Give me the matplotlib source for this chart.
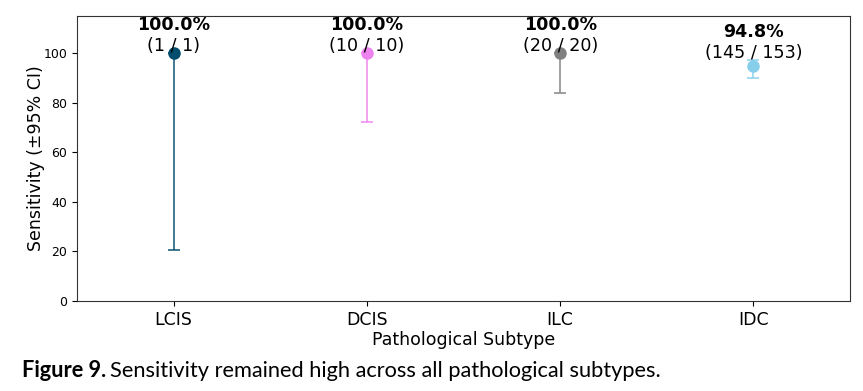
import matplotlib
matplotlib.use("Agg")
import matplotlib.pyplot as plt
import numpy as np

plt.rcParams["font.family"] = ["DejaVu Sans"]

subtypes = ["LCIS", "DCIS", "ILC", "IDC"]
detected = [1, 10, 20, 145]
totals = [1, 10, 20, 153]
sensitivity = [100.0, 100.0, 100.0, 94.8]
ci_lower = [20.7, 72.2, 83.9, 90.0]
ci_upper = [100.0, 100.0, 100.0, 97.3]
colors = ["#004c6d", "#ee82ee", "#808080", "#87ceeb"]

fig = plt.figure(figsize=(8.63, 3.91), dpi=100)
ax = fig.add_axes([0.0892, 0.2302, 0.8958, 0.7288])

xs = np.arange(len(subtypes))
for x, s, lo, hi, c in zip(xs, sensitivity, ci_lower, ci_upper, colors):
    ax.errorbar(x, s, yerr=[[s - lo], [hi - s]], fmt="none", ecolor=c,
                elinewidth=1.4, capsize=4, capthick=1.4, alpha=0.75, zorder=2)
    ax.plot(x, s, "o", color=c, markersize=8, zorder=3)

for x, d, n, s, hi in zip(xs, detected, totals, sensitivity, ci_upper):
    ax.text(x, hi - 0.8, f"({d} / {n})", ha="center", va="bottom", fontsize=12.6, zorder=4)
    ax.annotate(f"{s:.1f}%", xy=(x, hi - 0.8), xytext=(0, 15), textcoords="offset points",
                ha="center", va="bottom", fontsize=12.6, fontweight="bold", zorder=4)

ax.set_xlim(-0.5, 3.5)
ax.set_ylim(0, 115)
ax.set_yticks([0, 20, 40, 60, 80, 100])
ax.set_xticks(xs)
ax.set_xticklabels(subtypes, fontsize=12.5)
ax.tick_params(axis="y", labelsize=9)
ax.set_xlabel("Pathological Subtype", fontsize=12.5, labelpad=2)
ax.set_ylabel("Sensitivity (\u00b195% CI)", fontsize=12.5)
ax.yaxis.set_label_coords(-0.041, 0.5)
for sp in ax.spines.values():
    sp.set_color("#333333")

# caption below the chart
cap_y = (391 - 377) / 391
bold = fig.text(22 / 863, cap_y, "Figure 9.", fontsize=15.7, fontweight="bold",
                family="Lato", va="baseline", ha="left")
fig.canvas.draw()
bb = bold.get_window_extent()
fig.text(bb.x1 / fig.bbox.width + 0.005, cap_y,
         "Sensitivity remained high across all pathological subtypes.",
         fontsize=15.7, family="Lato", va="baseline", ha="left")

fig.savefig("out.png", dpi=100)
